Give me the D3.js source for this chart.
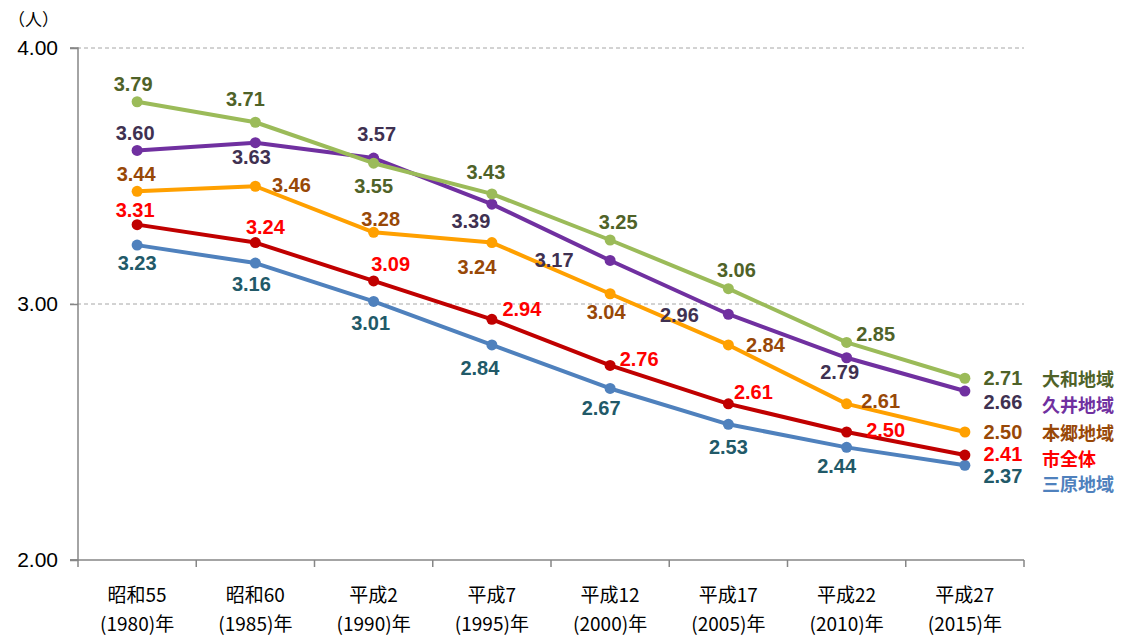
<!DOCTYPE html>
<html>
<head>
<meta charset="utf-8">
<script src="https://cdn.jsdelivr.net/npm/d3@7"></script>
<style>
  html, body { margin: 0; padding: 0; background: #fff; }
  svg { display: block; }
</style>
</head>
<body>
<div id="chart"></div>
<script>
// categories (two lines each)
const eras  = ["昭和55", "昭和60", "平成2", "平成7", "平成12", "平成17", "平成22", "平成27"];
const years = ["(1980)年", "(1985)年", "(1990)年", "(1995)年", "(2000)年", "(2005)年", "(2010)年", "(2015)年"];

// average household size per area
const yamato = [3.79, 3.71, 3.55, 3.43, 3.25, 3.06, 2.85, 2.71];
const kui    = [3.60, 3.63, 3.57, 3.39, 3.17, 2.96, 2.79, 2.66];
const hongo  = [3.44, 3.46, 3.28, 3.24, 3.04, 2.84, 2.61, 2.50];
const city   = [3.31, 3.24, 3.09, 2.94, 2.76, 2.61, 2.50, 2.41];
const mihara = [3.23, 3.16, 3.01, 2.84, 2.67, 2.53, 2.44, 2.37];

const yTicks = [2, 3, 4];
const seriesNames = ["大和地域", "久井地域", "本郷地域", "市全体", "三原地域"];

// label nudges (dx, dy from the point), like hand-placed data labels
const yamatoLbl = [[-4,-18],[-10,-23],[0,23],[-6,-22],[8,-18],[8,-19],[29,-8],[38,0]];
const kuiLbl    = [[-2,-17],[-4,14],[3,-24],[-21,17],[-56,0],[-49,1],[-7,14],[38,11]];
const hongoLbl  = [[-1,-17],[36,-1],[7,-13],[-15,24],[-4,18],[37,0],[34,-3],[38,0]];
const cityLbl   = [[-2,-15],[10,-16],[17,-17],[30,-10],[29,-6],[25,-12],[39,-2],[38,-1]];
const miharaLbl = [[0,18],[-4,21],[-3,22],[-12,23],[-9,20],[0,23],[-10,19],[38,11]];

const series = [
  { name: seriesNames[4], values: mihara, lbl: miharaLbl, line: "#4F81BD", text: "#215968", legend: "#4F81BD", legendDy: 18 },
  { name: seriesNames[3], values: city,   lbl: cityLbl,   line: "#C00000", text: "#FF0000", legend: "#FF0000", legendDy: 3 },
  { name: seriesNames[2], values: hongo,  lbl: hongoLbl,  line: "#FFA000", text: "#984807", legend: "#984807", legendDy: 0 },
  { name: seriesNames[1], values: kui,    lbl: kuiLbl,    line: "#7030A0", text: "#3F3151", legend: "#7030A0", legendDy: 13 },
  { name: seriesNames[0], values: yamato, lbl: yamatoLbl, line: "#9BBB59", text: "#4F6228", legend: "#4F6228", legendDy: 0 }
];

const W = 1128, H = 638;
const m = { left: 78, right: 1024, top: 48, bottom: 560 };

const svg = d3.select("#chart").append("svg")
    .attr("width", W)
    .attr("height", H);

const x = d3.scaleBand().domain(d3.range(eras.length)).range([m.left, m.right]).padding(0);
const y = d3.scaleLinear().domain([2, 4]).range([m.bottom, m.top]);
const cx = i => x(i) + x.bandwidth() / 2;

// dashed gridlines
svg.append("g")
  .selectAll("line")
  .data(yTicks.filter(d => d > 2))
  .join("line")
    .attr("x1", m.left - 8).attr("x2", m.right)
    .attr("y1", d => y(d)).attr("y2", d => y(d))
    .attr("stroke", "#A6A6A6")
    .attr("stroke-width", 1)
    .attr("stroke-dasharray", "4,3");

// y axis
const yAxis = svg.append("g")
    .attr("transform", `translate(${m.left},0)`)
    .call(d3.axisLeft(y).tickValues(yTicks).tickFormat(d3.format(".2f")).tickSize(8).tickPadding(12));
yAxis.select(".domain").attr("stroke", "#868686").attr("stroke-width", 1.5).attr("d", `M-8,${m.bottom}H0V${m.top}H-8`);
yAxis.selectAll(".tick line").attr("stroke", "#868686").attr("stroke-width", 1.5);
yAxis.selectAll(".tick text")
    .attr("font-family", "'Liberation Sans', Arial, sans-serif")
    .attr("font-size", 21)
    .attr("fill", "#000");

svg.append("text")
    .attr("x", 8).attr("y", 18)
    .attr("dominant-baseline", "central")
    .attr("font-family", "'Noto Sans CJK JP', sans-serif")
    .attr("font-size", 17)
    .text("（人）");

// x axis, ticks between categories
const xAxis = svg.append("g")
    .attr("transform", `translate(0,${m.bottom})`)
    .call(d3.axisBottom(x).tickSize(0).tickFormat(""));
xAxis.select(".domain").attr("stroke", "#868686").attr("stroke-width", 1.5).attr("d", `M${m.left - 8},0H${m.right}`);

xAxis.selectAll("line.sep")
  .data(d3.range(eras.length + 1))
  .join("line")
    .attr("class", "sep")
    .attr("x1", i => m.left + i * x.step()).attr("x2", i => m.left + i * x.step())
    .attr("y1", 0).attr("y2", 7)
    .attr("stroke", "#868686")
    .attr("stroke-width", 1.5);

const catText = xAxis.selectAll("text.cat")
  .data(d3.range(eras.length))
  .join("text")
    .attr("class", "cat")
    .attr("text-anchor", "middle")
    .attr("font-family", "'Noto Sans CJK JP', sans-serif")
    .attr("font-size", 19)
    .attr("fill", "#000");
catText.append("tspan").attr("x", i => cx(i)).attr("y", 33).attr("dominant-baseline", "central").text(i => eras[i]);
catText.append("tspan").attr("x", i => cx(i)).attr("y", 62).attr("dominant-baseline", "central").text(i => years[i]);

// lines + markers
const line = d3.line().x((d, i) => cx(i)).y(d => y(d));

series.forEach(s => {
  const g = svg.append("g");
  g.append("path")
      .datum(s.values)
      .attr("d", line)
      .attr("fill", "none")
      .attr("stroke", s.line)
      .attr("stroke-width", 4)
      .attr("stroke-linejoin", "round");
  g.selectAll("circle")
    .data(s.values)
    .join("circle")
      .attr("cx", (d, i) => cx(i))
      .attr("cy", d => y(d))
      .attr("r", 5.5)
      .attr("fill", s.line);
});

// data labels
series.forEach(s => {
  svg.append("g")
    .selectAll("text")
    .data(s.values)
    .join("text")
      .attr("x", (d, i) => cx(i) + s.lbl[i][0])
      .attr("y", (d, i) => y(d) + s.lbl[i][1])
      .attr("text-anchor", "middle")
      .attr("dominant-baseline", "central")
      .attr("font-family", "'Liberation Sans', Arial, sans-serif")
      .attr("font-weight", "bold")
      .attr("font-size", 20)
      .attr("fill", s.text)
      .text(d => d.toFixed(2));
});

// series names beside the last points
const last = eras.length - 1;
svg.append("g")
  .selectAll("text")
  .data(series)
  .join("text")
    .attr("x", m.right + 18)
    .attr("y", s => y(s.values[last]) + s.legendDy)
    .attr("dominant-baseline", "central")
    .attr("font-family", "'Noto Sans CJK JP', sans-serif")
    .attr("font-weight", "bold")
    .attr("font-size", 18)
    .attr("fill", s => s.legend)
    .text(s => s.name);
</script>
</body>
</html>
